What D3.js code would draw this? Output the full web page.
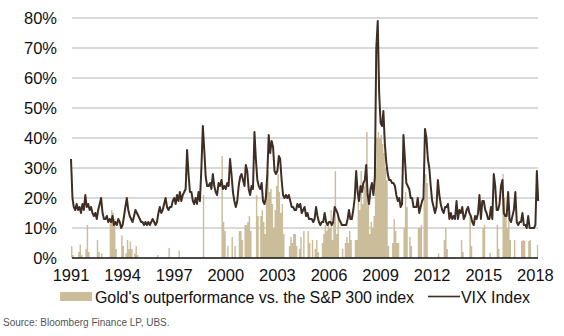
<!DOCTYPE html>
<html><head><meta charset="utf-8">
<script src="https://d3js.org/d3.v7.min.js"></script>
<style>body{margin:0;background:#fff;}svg{display:block;font-family:"Liberation Sans",Arial,sans-serif;}</style>
</head><body><svg id="c" width="564" height="336"></svg>
<script>
// monthly observations from Jan 1991 to Mar 2018
const startYear = 1991;
const vix = [
 33,20,17,16,18,16,17,15,18,16,21,17,
 18,16,17,15,14,15,13,16,18,20,15,13,
 13,14,12,13,12,14,11,12,11,13,12,10,
 11,14,17,20,16,14,13,12,14,16,15,14,
 13,12,12,11,12,11,12,11,12,13,12,11,
 12,15,17,15,16,18,20,17,16,17,17,19,
 20,18,21,19,22,19,21,22,23,36,28,22,
 22,19,18,20,18,22,19,30,44,36,27,24,
 24,25,23,28,24,22,21,25,24,26,23,24,
 23,25,24,33,28,22,19,17,19,24,27,28,
 26,24,31,29,23,21,24,23,42,33,26,24,
 23,25,19,18,20,28,41,35,39,37,29,28,
 29,34,33,26,21,20,21,20,21,19,17,17,
 16,16,18,17,18,15,16,17,14,15,13,13,
 13,12,13,17,14,12,11,12,12,15,12,11,
 12,12,11,12,17,16,15,13,12,11,11,11,
 11,13,16,13,13,16,20,29,22,19,24,22,
 25,26,31,21,18,23,25,21,27,70,79,55,
 45,44,49,38,32,28,26,26,25,25,24,21,
 19,20,17,18,41,33,25,24,23,20,20,17,
 17,17,20,15,17,19,20,43,40,33,30,24,
 19,17,15,17,26,21,18,16,15,17,17,18,
 13,15,13,14,13,19,13,16,15,17,13,14,
 16,17,15,14,12,11,14,13,15,21,13,19,
 19,16,15,13,13,17,13,28,24,16,16,18,
 24,26,15,14,14,22,13,12,14,16,22,12,
 11,12,12,15,11,11,10,14,10,10,10,10,
 11,29,19
];
const gold = [
 4,1,0,0,0,2,4.5,1,0,0,3,11,
 2,0,0,0,0,0,6,2,0,1.5,0,0,
 0,0,0,12,16,15,13,3,0,0,0,7.5,
 4,0,1.5,6,3,5.5,3,0,1.5,4,1,0,
 0,0,0,0,0,0,0,0,0,0,0,0,
 1,0,0,0,0,0,0,0,3.3,0,0,0,
 0,0,0,2.5,0,0,0,0,0,0,0,0,
 0,0,0,0,0,0,0,0,21,0,0,0,
 0,0,0,0,0,0,0,0,0,34,12,9,
 0,4,0,0,7,0,4,0,0,9,9,6,
 0,11,11,12,14,9,0,0,0,21,14,0,
 14,16,12,8,25,29,22,23,18,10,16,24,
 28,22,15,18,8,0,0,0,4,7,5,8,
 8,4,0,3,7,0,9,0,0,9,5,0,
 6,0,3,6,2,0,0,5,8,11,9,12,
 10,16,6,12,29,8,14,0,0,3,0,5,
 7,5,9,6,0,0,6,6,20,16,29,18,
 24,31,42,20,8,12,10,14,30,40,42,40,
 41,38,35,30,26,4,0,0,5,13,9,5,
 5,0,0,0,10,22,17,0,7,4,0,0,
 0,0,10,10,11,0,20,28,25,0,0,0,
 0,0,0,0,1.5,0,0,0,6,10,3,0,
 0,0,0,0,0,0,0,0,6,2,0,0,
 0,0,13.8,4,0,0,0,0,0,0,0,10,
 11,0,0,0,1.7,0,0,0,0,11,3,0,
 0,28,20,14,10,15,6,0,0,6,0,0,
 0,0,5.7,6,5.7,0,0,5.7,6,0,0,0,
 0,4.4,0
];
const yTicks = [0,10,20,30,40,50,60,70,80];
const xTickYears = [1991,1994,1997,2000,2003,2006,2009,2012,2015,2018];
const legendLabels = ["Gold's outperformance vs. the S&P 300 index","VIX Index"];
const sourceText = "Source: Bloomberg Finance LP, UBS.";

const dates = vix.map((_, i) => new Date(startYear, i, 1));
const svg = d3.select("#c");
const x = d3.scaleTime().domain([new Date(1991,0,1), new Date(2018,0,1)]).range([71, 535.4]);
const y = d3.scaleLinear().domain([0,80]).range([258,18]);
const left = 72, right = 538;

// grid
svg.append("g").selectAll("line").data(yTicks.filter(d=>d>0)).join("line")
  .attr("x1", left).attr("x2", right).attr("y1", d=>y(d)).attr("y2", d=>y(d))
  .attr("stroke", "#b3b3b3").attr("stroke-width", 1);

// y labels
svg.append("g").selectAll("text").data(yTicks).join("text")
  .attr("x", 57).attr("y", d=>y(d)).attr("dy","0.36em").attr("text-anchor","end")
  .attr("font-size", 16.5).attr("fill","#111").text(d=>d+"%");

// gold bars (monthly steps)
const gData = gold.map((v,i)=>({d:new Date(startYear,i,1), v}));
gData.push({d:new Date(startYear, gold.length, 1), v:gold[gold.length-1]});
const area = d3.area().curve(d3.curveStepAfter)
  .x(d=>x(d.d)).y0(y(0)).y1(d=>y(d.v));
svg.append("path").datum(gData).attr("d", area).attr("fill", "#cbbd99");

// VIX line
const line = d3.line().x((d,i)=>x(dates[i])).y(d=>y(d));
svg.append("path").datum(vix).attr("d", line).attr("fill","none")
  .attr("stroke","#3f2e24").attr("stroke-width",2).attr("stroke-linejoin","round");

// baseline
svg.append("line").attr("x1",left).attr("x2",right).attr("y1",y(0)).attr("y2",y(0))
  .attr("stroke","#111").attr("stroke-width",1.5);

// x labels
svg.append("g").selectAll("text").data(xTickYears).join("text")
  .attr("x", d=>x(new Date(d,0,1))).attr("y", 281).attr("text-anchor","middle")
  .attr("font-size",16.5).attr("fill","#111").text(d=>d);

// legend
svg.append("rect").attr("x",60).attr("y",292).attr("width",32).attr("height",9).attr("fill","#cbbd99");
svg.append("text").attr("x",95).attr("y",302.5).attr("font-size",16).attr("fill","#111")
  .attr("textLength",319).attr("lengthAdjust","spacing").text(legendLabels[0]);
svg.append("line").attr("x1",428).attr("x2",460).attr("y1",296.5).attr("y2",296.5).attr("stroke","#3f2e24").attr("stroke-width",1.6);
svg.append("text").attr("x",461).attr("y",302.5).attr("font-size",16).attr("fill","#111")
  .attr("textLength",69).attr("lengthAdjust","spacing").text(legendLabels[1]);

svg.append("text").attr("x",3).attr("y",326).attr("font-size",10).attr("fill","#555").text(sourceText);
</script></body></html>
